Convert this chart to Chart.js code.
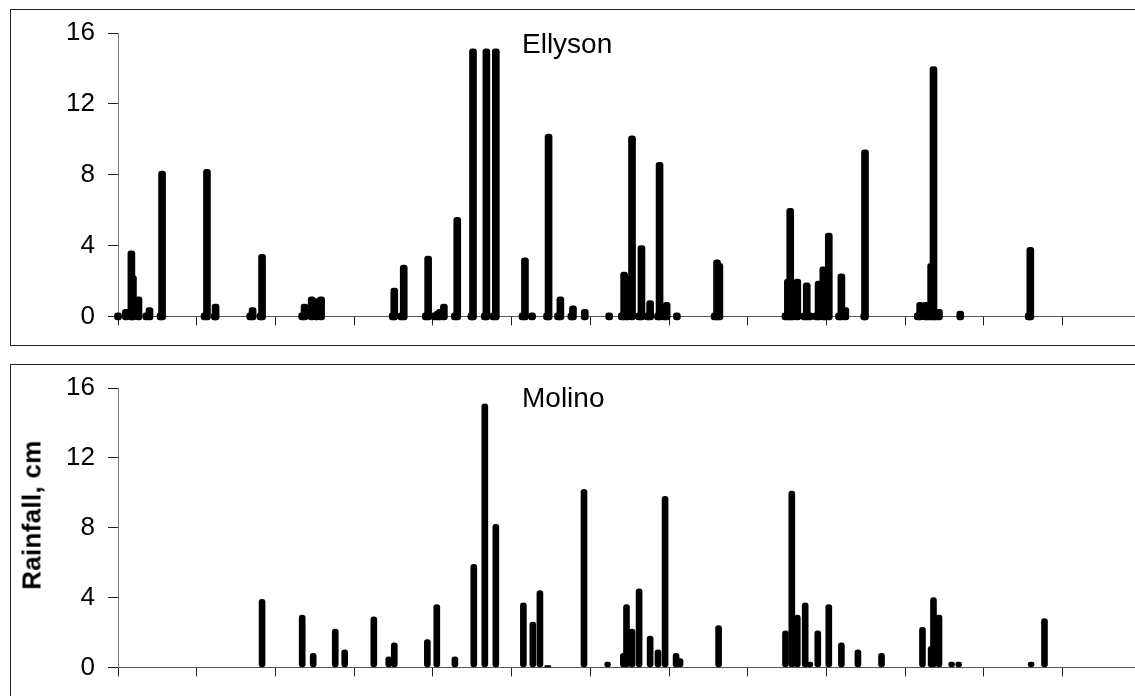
<!DOCTYPE html>
<html lang="en">
<head>
  <meta charset="UTF-8" />
  <title>Rainfall - Ellyson and Molino</title>
  <script src="https://cdn.jsdelivr.net/npm/chart.js"></script>
  <style>
    * { margin: 0; padding: 0; box-sizing: border-box; }
    body {
      width: 1135px;
      height: 696px;
      overflow: hidden;
      position: relative;
      background: #fff;
      font-family: 'Liberation Sans', Arial, sans-serif;
      color: #000;
    }
    /* panel frames run off the right edge, as in the original */
    .frame { position: absolute; left: 10px; width: 1300px; border: 1px solid #222; }
    #frameTop { top: 9px; height: 337px; }
    #frameBottom { top: 364px; height: 400px; }
    .panel { position: absolute; left: 0; width: 1135px; }
    #topWrap { top: 0; height: 345px; }
    #bottomWrap { top: 345px; height: 351px; }
    .site { position: absolute; left: 522px; font-size: 28px; line-height: 1; }
    #siteTop { top: 30px; }
    #siteBottom { top: 384px; }
    #ylabel {
      position: absolute;
      left: 32px;
      top: 515px;
      transform: translate(-50%, -50%) rotate(-90deg);
      white-space: nowrap;
      font-weight: bold;
      font-size: 26px;
      letter-spacing: 0.3px;
    }
  </style>
</head>
<body>
  <div class="frame" id="frameTop"></div>
  <div class="frame" id="frameBottom"></div>
  <div class="panel" id="topWrap"><canvas id="ellyson"></canvas></div>
  <div class="panel" id="bottomWrap"><canvas id="molino"></canvas></div>
  <div class="site" id="siteTop">Ellyson</div>
  <div class="site" id="siteBottom">Molino</div>
  <div id="ylabel">Rainfall, cm</div>

  <script>
    // x position of each event, in axis-tick units (ticks are unlabeled)
    const xTicks = [0, 1, 2, 3, 4, 5, 6, 7, 8, 9, 10, 11, 12];
    const xMax = 12.92;
    const yTicks = [0, 4, 8, 12, 16];

    // Ellyson
    const ellysonX = [
      0.00, 0.10, 0.17, 0.19, 0.26, 0.36, 0.40, 0.54, 0.56,
      1.10, 1.13, 1.23, 1.24, 1.68, 1.71, 1.81, 1.83,
      2.34, 2.37, 2.46, 2.52, 2.58,
      3.49, 3.51, 3.60, 3.63, 3.91, 3.94,
      4.02, 4.06, 4.09, 4.14, 4.28, 4.31, 4.49, 4.51, 4.66, 4.68, 4.77, 4.80,
      5.14, 5.17, 5.26, 5.45, 5.47, 5.59, 5.62, 5.76, 5.78, 5.93,
      6.24, 6.40, 6.43, 6.47, 6.53, 6.62, 6.65, 6.73, 6.76, 6.86, 6.88, 6.94, 6.97,
      7.10, 7.58, 7.61, 7.64,
      8.48, 8.51, 8.54, 8.57, 8.63, 8.72, 8.75, 8.79, 8.87, 8.90, 8.96, 8.99,
      9.03, 9.16, 9.19, 9.24, 9.48, 9.49,
      10.16, 10.19, 10.26, 10.29, 10.33, 10.36, 10.39, 10.43, 10.70,
      11.57, 11.59
    ];
    const ellysonRain = [
      0.2, 0.4, 3.7, 2.3, 1.1, 0.2, 0.5, 0.2, 8.2,
      0.2, 8.3, 0.2, 0.7, 0.2, 0.5, 0.2, 3.5,
      0.2, 0.7, 1.1, 1.0, 1.1,
      0.2, 1.6, 0.2, 2.9, 0.2, 3.4,
      0.2, 0.3, 0.4, 0.7, 0.2, 5.6, 0.2, 15.1, 0.2, 15.1, 0.2, 15.1,
      0.2, 3.3, 0.2, 0.2, 10.3, 0.2, 1.1, 0.2, 0.6, 0.4,
      0.2, 0.2, 2.5, 2.3, 10.2, 0.2, 4.0, 0.2, 0.9, 0.2, 8.7, 0.2, 0.8,
      0.2, 0.2, 3.2, 3.0,
      0.2, 2.1, 6.1, 0.2, 2.1, 0.2, 1.9, 0.2, 0.2, 2.0, 2.8, 0.2,
      4.7, 0.2, 2.4, 0.5, 0.2, 9.4,
      0.2, 0.8, 0.8, 0.2, 3.0, 14.1, 0.2, 0.4, 0.3,
      0.2, 3.9
    ];

    // Molino
    const molinoX = [
      1.83, 2.34, 2.48, 2.76, 2.88, 3.25, 3.44, 3.51, 3.93,
      4.05, 4.28, 4.52, 4.66, 4.80, 5.15, 5.27, 5.36, 5.46, 5.92,
      6.22, 6.42, 6.46, 6.53, 6.62, 6.76, 6.86, 6.95, 7.09, 7.14, 7.63,
      8.48, 8.56, 8.63, 8.73, 8.79, 8.89, 9.03, 9.19, 9.40, 9.70,
      10.22, 10.33, 10.36, 10.43, 10.59, 10.68, 11.60, 11.77
    ];
    const molinoRain = [
      3.9, 3.0, 0.8, 2.2, 1.0, 2.9, 0.6, 1.4, 1.6,
      3.6, 0.6, 5.9, 15.1, 8.2, 3.7, 2.6, 4.4, 0.1, 10.2,
      0.3, 0.8, 3.6, 2.2, 4.5, 1.8, 1.0, 9.8, 0.8, 0.5, 2.4,
      2.1, 10.1, 3.0, 3.7, 0.3, 2.1, 3.6, 1.4, 1.0, 0.8,
      2.3, 1.2, 4.0, 3.0, 0.3, 0.3, 0.3, 2.8
    ];

    function toPoints(xs, ys) {
      return xs.map((x, i) => ({ x: x, y: ys[i] }));
    }

    function makeChart(id, xs, ys, topPad, axisHeight, base, thickness) {
      return new Chart(document.getElementById(id), {
        type: 'bar',
        data: {
          datasets: [{
            data: toPoints(xs, ys),
            backgroundColor: '#000',
            barThickness: thickness,
            borderRadius: 3,
            borderSkipped: false,
            base: base,
            clip: false
          }]
        },
        options: {
          responsive: true,
          maintainAspectRatio: false,
          animation: false,
          layout: { padding: { top: topPad, left: 0, right: 0, bottom: 0 } },
          plugins: { legend: { display: false }, tooltip: { enabled: false } },
          scales: {
            x: {
              type: 'linear',
              min: 0,
              max: xMax,
              offset: false,
              afterBuildTicks: s => { s.ticks = xTicks.map(v => ({ value: v })); },
              afterFit: s => { s.height = axisHeight; },
              ticks: { display: false },
              grid: { drawOnChartArea: false, offset: false, tickLength: 9, color: '#222' },
              border: { color: '#555', width: 1 }
            },
            y: {
              min: 0,
              max: 16,
              afterBuildTicks: s => { s.ticks = yTicks.map(v => ({ value: v })); },
              afterFit: s => { s.width = 118; },
              ticks: {
                color: '#000',
                padding: 13,
                font: { family: "'Liberation Sans', Arial, sans-serif", size: 26 }
              },
              grid: { drawOnChartArea: false, tickLength: 10, color: '#222' },
              border: { color: '#777', width: 1 }
            }
          }
        }
      });
    }

    makeChart('ellyson', ellysonX, ellysonRain, 33, 23, -0.2, 7);
    makeChart('molino', molinoX, molinoRain, 43, 18, 0, 6);
  </script>
</body>
</html>
